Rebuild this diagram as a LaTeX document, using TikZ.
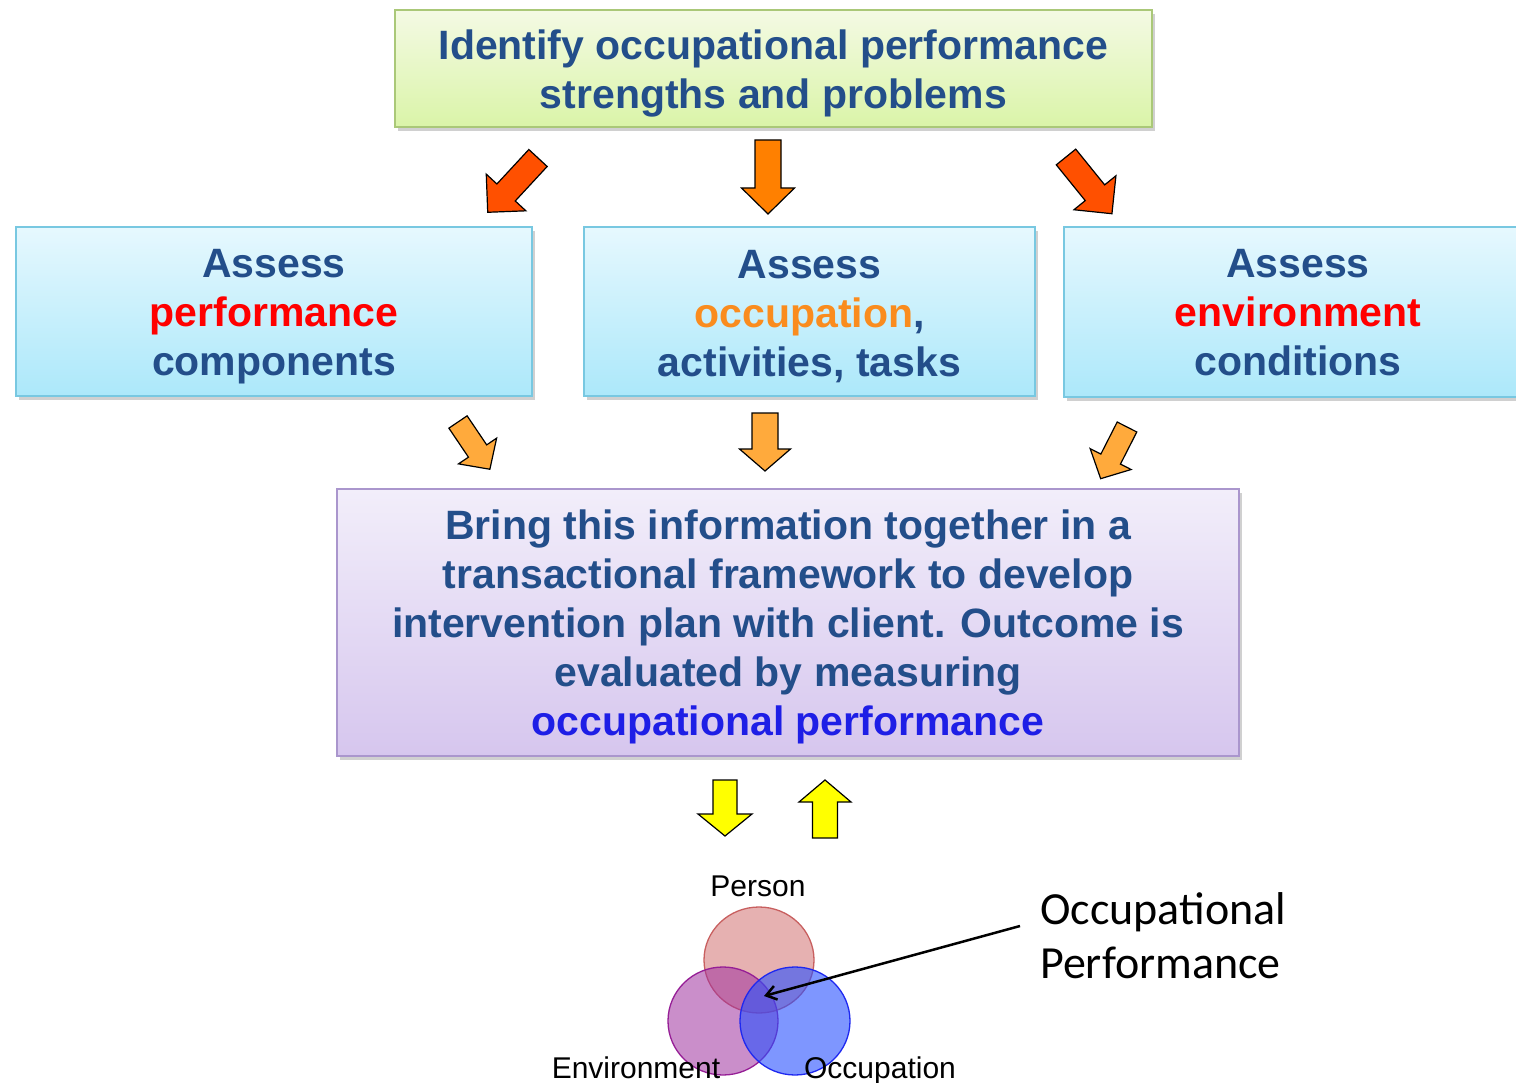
\documentclass[tikz,border=0pt]{standalone}
\usepackage{fontspec}
\setmainfont{Liberation Sans}
\newfontfamily\calib{Carlito}
\usetikzlibrary{shadows,arrows.meta}
\definecolor{txtblue}{RGB}{35,78,138}
\definecolor{redword}{RGB}{255,0,0}
\definecolor{orangeword}{RGB}{250,140,30}
\definecolor{blueword}{RGB}{30,30,230}
\definecolor{arrRed}{RGB}{255,80,0}
\definecolor{arrOrange}{RGB}{255,128,0}
\definecolor{arrLight}{RGB}{255,170,60}
\definecolor{arrYellow}{RGB}{255,255,0}
\newcommand\blkarrow[8]{%
  \begin{scope}[shift={(#2,#3)}, rotate=#4]
    \draw[fill=#1, line width=1.2pt, line join=miter]
      (0,-#6/2) -- (#5-#8,-#6/2) -- (#5-#8,-#7/2) -- (#5,0) -- (#5-#8,#7/2)
      -- (#5-#8,#6/2) -- (0,#6/2) -- cycle;
  \end{scope}}
\begin{document}
\begin{tikzpicture}[x=1pt,y=-1pt,
  boxtext/.style={font=\bfseries\fontsize{41}{49}\selectfont, text=txtblue, align=center},
  shade/.style={drop shadow={shadow xshift=3pt, shadow yshift=-4pt, opacity=0.3, fill=black!60}},
  greenbox/.style={shade, draw={rgb,255:red,170;green,200;blue,120}, line width=1.5pt,
     top color={rgb,255:red,244;green,250;blue,228}, bottom color={rgb,255:red,218;green,244;blue,168}},
  bluebox/.style={shade, draw={rgb,255:red,120;green,200;blue,225}, line width=1.5pt,
     top color={rgb,255:red,230;green,248;blue,254}, bottom color={rgb,255:red,172;green,232;blue,250}},
  purplebox/.style={shade, draw={rgb,255:red,170;green,150;blue,205}, line width=1.5pt,
     top color={rgb,255:red,242;green,238;blue,250}, bottom color={rgb,255:red,214;green,198;blue,238}},
  venn/.style={font=\fontsize{30}{36}\selectfont, text=black, anchor=base}
]
\useasboundingbox (0,0) rectangle (1516,1083);
\clip (0,0) rectangle (1516,1083);
\fill[white] (0,0) rectangle (1516,1083);

% boxes
\path[greenbox] (395,10) rectangle (1152,127);
\node[boxtext] (top) at (773.5,73) {Identify occupational performance\\strengths and problems};

\path[bluebox] (16,227) rectangle (532,396);
\node[boxtext] (pc) at (274,317) {Assess\\\textcolor{redword}{performance}\\components};

\path[bluebox] (584,227) rectangle (1035,396);
\node[boxtext] (oc) at (809.5,317) {Assess\\\textcolor{orangeword}{occupation},\\activities, tasks};

\path[bluebox] (1064,227) rectangle (1540,397);
\node[boxtext] (ec) at (1298,313) {Assess\\\textcolor{redword}{environment}\\conditions};

\path[purplebox] (337,489) rectangle (1239,756);
\node[boxtext] (tf) at (788,627) {Bring this information together in a\\transactional framework to develop\\intervention plan with client. Outcome is\\evaluated by measuring\\\textcolor{blueword}{occupational performance}};

% block arrows: color, tail x, tail y, canvas angle, length, shaft w, head w, head len
\blkarrow{arrRed}{538}{158}{-132.8}{74}{25}{54}{27}
\blkarrow{arrOrange}{768}{140}{-90}{74}{26}{53}{26}
\blkarrow{arrRed}{1066}{157}{-51}{73}{25}{54}{27}

\blkarrow{arrLight}{458}{422}{-56}{57}{22}{46}{22}
\blkarrow{arrLight}{765}{413}{-90}{58}{26}{51}{22}
\blkarrow{arrLight}{1127}{427}{-117}{58}{22}{46}{22}

\blkarrow{arrYellow}{725}{780}{-90}{56}{24}{54}{22}
\blkarrow{arrYellow}{825}{838}{90}{58}{25}{52}{22}

% Venn
\fill[fill={rgb,255:red,215;green,130;blue,130}, fill opacity=0.62] (759,960) ellipse [x radius=55, y radius=53];
\draw[draw={rgb,255:red,200;green,95;blue,95}, line width=1.3pt] (759,960) ellipse [x radius=55, y radius=53];
\fill[fill={rgb,255:red,160;green,50;blue,160}, fill opacity=0.55] (723,1021) ellipse [x radius=55, y radius=54];
\draw[draw={rgb,255:red,150;green,30;blue,150}, line width=1.3pt] (723,1021) ellipse [x radius=55, y radius=54];
\fill[fill={rgb,255:red,40;green,80;blue,255}, fill opacity=0.6] (795,1021) ellipse [x radius=55, y radius=54];
\draw[draw={rgb,255:red,30;green,40;blue,240}, line width=1.3pt] (795,1021) ellipse [x radius=55, y radius=54];

\node[venn] (person) at (758,896) {Person};
\node[venn] (env) at (636,1078) {Environment};
\node[venn] (occ) at (880,1078) {Occupation};

\node[font=\calib\fontsize{46}{54}\selectfont, align=left, anchor=west, inner sep=0] (opl) at (1040,936) {Occupational\\Performance};
\coordinate (center) at (764,996);
\coordinate (opstart) at (1020,926);
\draw[line width=2.5pt, -{Straight Barb[length=10pt, width=14pt]}] (opstart) -- (center);
\end{tikzpicture}
\end{document}
